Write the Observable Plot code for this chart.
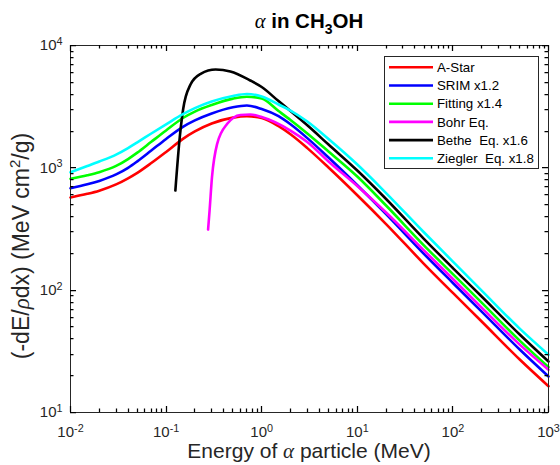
<!DOCTYPE html>
<html><head><meta charset="utf-8">
<script src="https://cdn.jsdelivr.net/npm/d3@7"></script>
<script src="https://cdn.jsdelivr.net/npm/@observablehq/plot@0.6"></script>
<style>body{margin:0;background:#fff;} svg{display:block}</style>
</head><body><div id="chart"></div>
<script>
// Energy grid (MeV) shared by A-Star, SRIM, Fitting and Ziegler curves
const energy  = [0.01,0.015,0.02,0.03,0.04,0.05,0.07,0.1,0.15,0.2,0.3,0.5,0.7,1,1.5,2,3,5,10,20,50,100,200,500,1000];
const aStar   = [572,613,651,732,821,910,1094,1349,1726,1984,2302,2573,2642,2554,2188,1879,1449,1006,597,347,163.5,94.9,55.4,27.1,16.4];
const srim    = [681,733,782,883,1000,1130,1385,1723,2163,2441,2780,3124,3231,3026,2642,2268,1749,1214,721,419,197.4,114.5,66.8,32.7,19.7];
const fitting = [813,870,922,1036,1180,1331,1632,2022,2554,2880,3262,3679,3814,3686,2913,2459,1908,1359,849,492,231.6,135.4,79.2,38.7,23.5];
const ziegler = [920,1034,1126,1284,1452,1616,1908,2268,2749,3077,3485,3865,4013,3828,3293,2941,2391,1720,1064,622,296,171.3,99.2,48.5,29.7];
// Bohr equation curve
const bohrEnergy = [0.275,0.285,0.302,0.342,0.436,0.6,0.76,1,2,3,5,10,20,50,100,200,500,1000];
const bohr       = [313,448,838,1571,2289,2703,2728,2603,2018,1626,1126,710,431,210.7,123.3,72.0,35.9,22.4];
// Bethe equation curve
const betheEnergy = [0.125,0.139,0.151,0.18,0.23,0.33,0.47,0.76,1,1.5,2,3,5,10,20,50,100,200,500,1000];
const bethe       = [652,1779,3037,4799,5870,6365,6131,5173,4578,3511,2913,2226,1550,950,556,261.7,151.6,88.7,43.4,26.1];

const seriesNames  = ["A-Star","SRIM x1.2","Fitting x1.4","Bohr Eq.","Bethe  Eq. x1.6","Ziegler  Eq. x1.8"];
const seriesColors = ["#ff0000","#0000ff","#00ff00","#ff00ff","#000000","#00ffff"];

const xMajor = [0.01,0.1,1,10,100,1000];
const yMajor = [10,100,1000,10000];
const minorSteps = [2,3,4,5,6,7,8,9];

const xMinor = xMajor.slice(0,-1).flatMap(d => minorSteps.map(k => d*k));
const yMinor = yMajor.slice(0,-1).flatMap(d => minorSteps.map(k => d*k));

const seriesData = [
  [energy, aStar], [energy, srim], [energy, fitting],
  [bohrEnergy, bohr], [betheEnergy, bethe], [energy, ziegler]
];
const rows = seriesData.flatMap(([ex, vy], i) => ex.map((E, j) => ({E, v: vy[j], s: seriesNames[i]})));

const ink = "#262626";
const sup = d => "10^" + Math.round(Math.log10(d));
const MAJ = 6, MIN = 3.5;

const plot = Plot.plot({
  width: 560, height: 465,
  marginTop: 45, marginBottom: 53, marginLeft: 70, marginRight: 12,
  style: {fontFamily: "'Liberation Sans', Arial, sans-serif", fontSize: "15px", color: ink, background: "#fff"},
  x: {type: "log", domain: [0.01, 1000], axis: null},
  y: {type: "log", domain: [10, 10000], axis: null},
  color: {domain: seriesNames, range: seriesColors},
  marks: [
    Plot.axisX(xMajor, {anchor: "bottom", tickSize: 0, tickPadding: 14, tickFormat: sup, label: null, fontSize: 15, fill: ink}),
    Plot.axisY(yMajor, {anchor: "left", tickSize: 0, tickPadding: 8, tickFormat: sup, label: null, fontSize: 15, fill: ink}),
    Plot.line(rows, {x: "E", y: "v", z: "s", stroke: "s", strokeWidth: 2.6, curve: "monotone-x"}),
    Plot.frame({stroke: ink, strokeWidth: 1})
  ]
});

const svg = d3.select(plot);
// superscript exponents on tick labels
svg.selectAll("text").each(function() {
  const t = this.textContent;
  if (t.startsWith("10^")) {
    const e = t.slice(3);
    const s = d3.select(this);
    s.text("10");
    s.append("tspan").attr("dy", "-0.5em").attr("font-size", "0.72em").text(e);
  }
});

const sx = plot.scale("x"), sy = plot.scale("y");
const fLeft = sx.apply(0.01), fRight = sx.apply(1000), fTop = sy.apply(10000), fBottom = sy.apply(10);

// inward ticks on all four sides (MATLAB box style), positioned with Plot's scales
const tg = svg.append("g").attr("stroke", "#000").attr("stroke-width", 1.25).attr("fill", "none");
const crisp = v => Math.round(v) + 0.5;
[[xMinor, MIN], [xMajor, MAJ]].forEach(([vals, len]) => vals.forEach(v => {
  const px = crisp(sx.apply(v));
  tg.append("path").attr("d", `M${px},${fBottom}V${fBottom - len}M${px},${fTop}V${fTop + len}`);
}));
[[yMinor, MIN], [yMajor, MAJ]].forEach(([vals, len]) => vals.forEach(v => {
  const py = crisp(sy.apply(v));
  tg.append("path").attr("d", `M${fLeft},${py}H${fLeft + len}M${fRight},${py}H${fRight - len}`);
}));

const cx = (fLeft + fRight) / 2;
const greek = "'Liberation Serif', 'DejaVu Serif', serif";

// title
const title = svg.append("text").attr("x", cx).attr("y", 28).attr("text-anchor", "middle")
  .attr("font-size", 20.5).attr("font-weight", "bold").attr("fill", "#000");
title.append("tspan").attr("font-family", greek).attr("font-style", "italic").attr("font-weight", "normal").text("α");
title.append("tspan").text(" in CH");
title.append("tspan").attr("font-size", 14).attr("dy", 6).text("3");
title.append("tspan").attr("dy", -6).text("OH");

// x label
const xl = svg.append("text").attr("x", cx).attr("y", 458).attr("text-anchor", "middle")
  .attr("font-size", 21).attr("fill", ink);
xl.append("tspan").text("Energy of ");
xl.append("tspan").attr("font-family", greek).attr("font-style", "italic").text("α");
xl.append("tspan").text(" particle (MeV)");

// y label
const yl = svg.append("text").attr("transform", "translate(29,246) rotate(-90)").attr("text-anchor", "middle")
  .attr("font-size", 23).attr("fill", ink);
yl.append("tspan").text("(-dE/");
yl.append("tspan").attr("font-family", greek).attr("font-style", "italic").text("ρ");
yl.append("tspan").text("dx) (MeV cm");
yl.append("tspan").attr("font-size", 15).attr("dy", -9).text("2");
yl.append("tspan").attr("dy", 9).text("/g)");

// legend
const lg = svg.append("g");
lg.append("rect").attr("x", 384.5).attr("y", 56.5).attr("width", 154).attr("height", 112)
  .attr("fill", "#fff").attr("stroke", ink).attr("stroke-width", 1);
seriesNames.forEach((name, i) => {
  const y = 67.3 + i * 18.2;
  lg.append("line").attr("x1", 389).attr("x2", 433).attr("y1", y).attr("y2", y)
    .attr("stroke", seriesColors[i]).attr("stroke-width", 2.6);
  lg.append("text").attr("x", 437).attr("y", y).attr("dy", "0.35em").attr("font-size", 13.3)
    .attr("text-anchor", "start").attr("fill", "#000").style("white-space", "pre").text(name);
});

document.getElementById("chart").appendChild(plot);
</script>
</body></html>
